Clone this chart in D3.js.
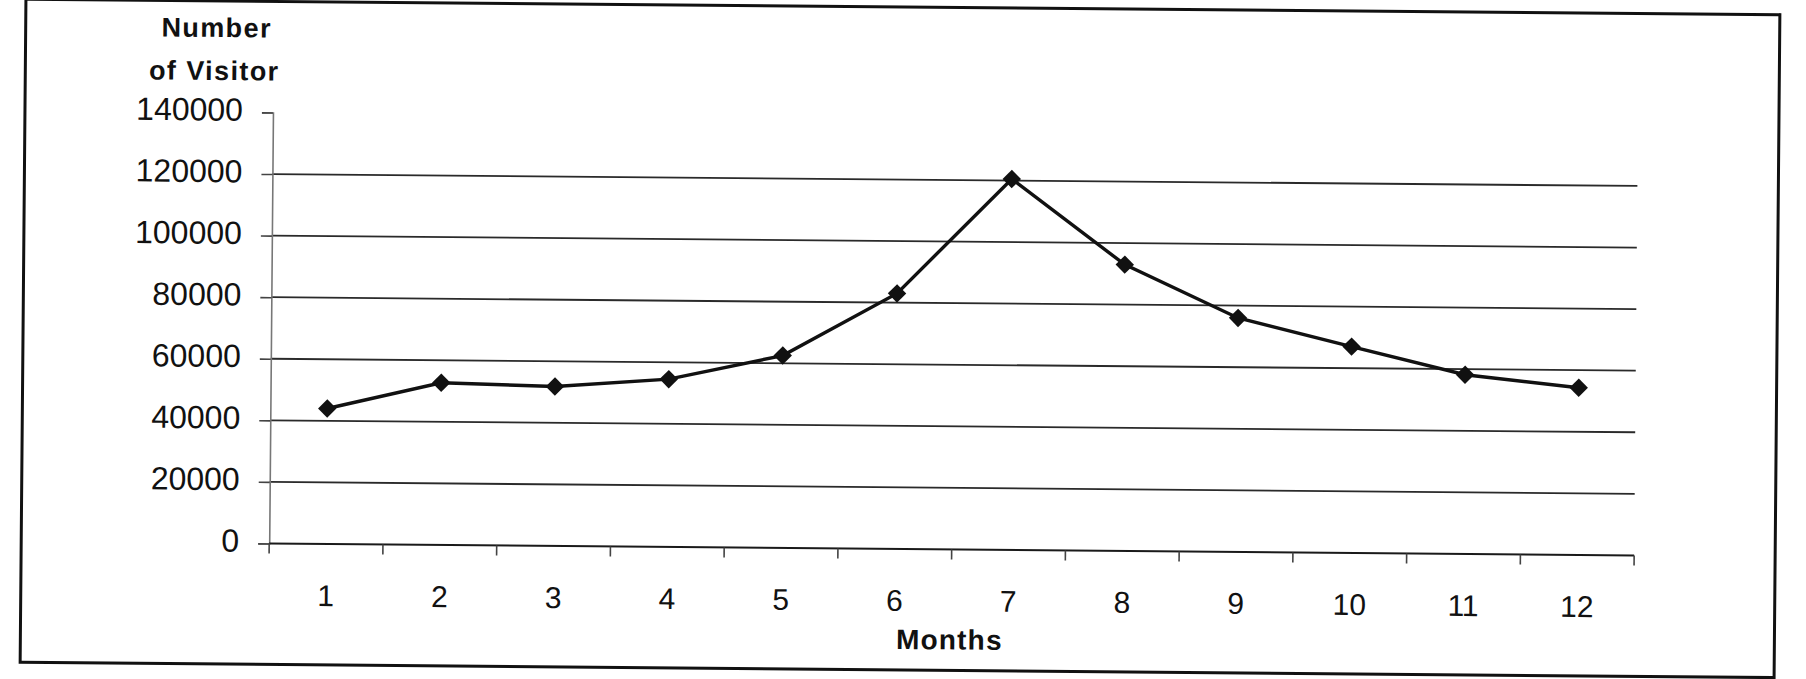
<!DOCTYPE html>
<html>
<head>
<meta charset="utf-8">
<script src="https://cdn.jsdelivr.net/npm/d3@7"></script>
<style>
  body { margin: 0; background: #fff; }
  svg { display: block; }
  text { font-family: "Liberation Sans", Arial, sans-serif; fill: #111; }
</style>
</head>
<body>
<div id="chart"></div>
<script>
// chart data
const months = ['1', '2', '3', '4', '5', '6', '7', '8', '9', '10', '11', '12'];
const visitors = [44000, 52700, 51800, 54500, 62500, 83000, 120500, 93000, 76000, 67000, 58200, 54300];
const yTicks = [0, 20000, 40000, 60000, 80000, 100000, 120000, 140000];

const W = 1806, H = 679;
const plot = { left: 271, right: 1636, top: 118, bottom: 549 };

const svg = d3.select('#chart').append('svg')
  .attr('width', W)
  .attr('height', H);

// the scan is slightly rotated
const g = svg.append('g')
  .attr('transform', `rotate(0.5, ${W / 2}, ${H / 2})`);

// outer frame
g.append('rect')
  .attr('x', 23).attr('y', 7)
  .attr('width', 1754).attr('height', 663)
  .attr('fill', 'none')
  .attr('stroke', '#111')
  .attr('stroke-width', 3);

const x = d3.scaleBand()
  .domain(months)
  .range([plot.left, plot.right]);

const y = d3.scaleLinear()
  .domain([0, 140000])
  .range([plot.bottom, plot.top]);

// gridlines (none at the top value)
g.append('g')
  .selectAll('line')
  .data(yTicks.filter(d => d > 0 && d < 140000))
  .join('line')
  .attr('x1', plot.left)
  .attr('x2', plot.right)
  .attr('y1', d => y(d))
  .attr('y2', d => y(d))
  .attr('stroke', '#2a2a2a')
  .attr('stroke-width', 1.8);

// y axis
const yAxis = d3.axisLeft(y)
  .tickValues(yTicks)
  .tickSize(11)
  .tickPadding(19)
  .tickFormat(d3.format('d'));

const yG = g.append('g')
  .attr('transform', `translate(${plot.left},0)`)
  .call(yAxis);
yG.select('.domain').attr('stroke', '#777').attr('stroke-width', 1.6);
yG.selectAll('.tick line').attr('stroke', '#444').attr('stroke-width', 1.6);
yG.selectAll('.tick text')
  .attr('font-size', 32)
  .attr('dy', '0.25em')
  .style('fill', '#111');

// x axis: ticks between categories
const xG = g.append('g')
  .attr('transform', `translate(0,${plot.bottom})`);
xG.append('line')
  .attr('x1', plot.left).attr('x2', plot.right)
  .attr('stroke', '#1a1a1a').attr('stroke-width', 2);
xG.selectAll('.sep')
  .data(months.concat(['end']))
  .join('line')
  .attr('class', 'sep')
  .attr('x1', (d, i) => i < months.length ? x(d) : plot.right)
  .attr('x2', (d, i) => i < months.length ? x(d) : plot.right)
  .attr('y1', 0).attr('y2', 10)
  .attr('stroke', '#444').attr('stroke-width', 1.6);
xG.selectAll('.lab')
  .data(months)
  .join('text')
  .attr('class', 'lab')
  .attr('x', d => x(d) + x.bandwidth() / 2)
  .attr('y', 62)
  .attr('text-anchor', 'middle')
  .attr('font-size', 30)
  .text(d => d);

// axis titles
g.append('text')
  .attr('x', 952).attr('y', 649)
  .attr('text-anchor', 'middle')
  .attr('font-size', 28)
  .attr('font-weight', 'bold')
  .attr('letter-spacing', 1.2)
  .text('Months');

const yt = g.append('text')
  .attr('text-anchor', 'middle')
  .attr('font-size', 27)
  .attr('font-weight', 'bold')
  .attr('letter-spacing', 1.4);
yt.append('tspan').attr('x', 214).attr('y', 43).text('Number');
yt.append('tspan').attr('x', 212).attr('y', 86).text('of Visitor');

// series line
const line = d3.line()
  .x((d, i) => x(months[i]) + x.bandwidth() / 2)
  .y(d => y(d));

g.append('path')
  .datum(visitors)
  .attr('d', line)
  .attr('fill', 'none')
  .attr('stroke', '#111')
  .attr('stroke-width', 3.4);

// diamond markers
const diamond = d3.symbol(d3.symbolSquare, 170);
g.append('g')
  .selectAll('path')
  .data(visitors)
  .join('path')
  .attr('d', diamond)
  .attr('transform', (d, i) =>
    `translate(${x(months[i]) + x.bandwidth() / 2},${y(d)}) rotate(45)`)
  .attr('fill', '#111');
</script>
</body>
</html>
